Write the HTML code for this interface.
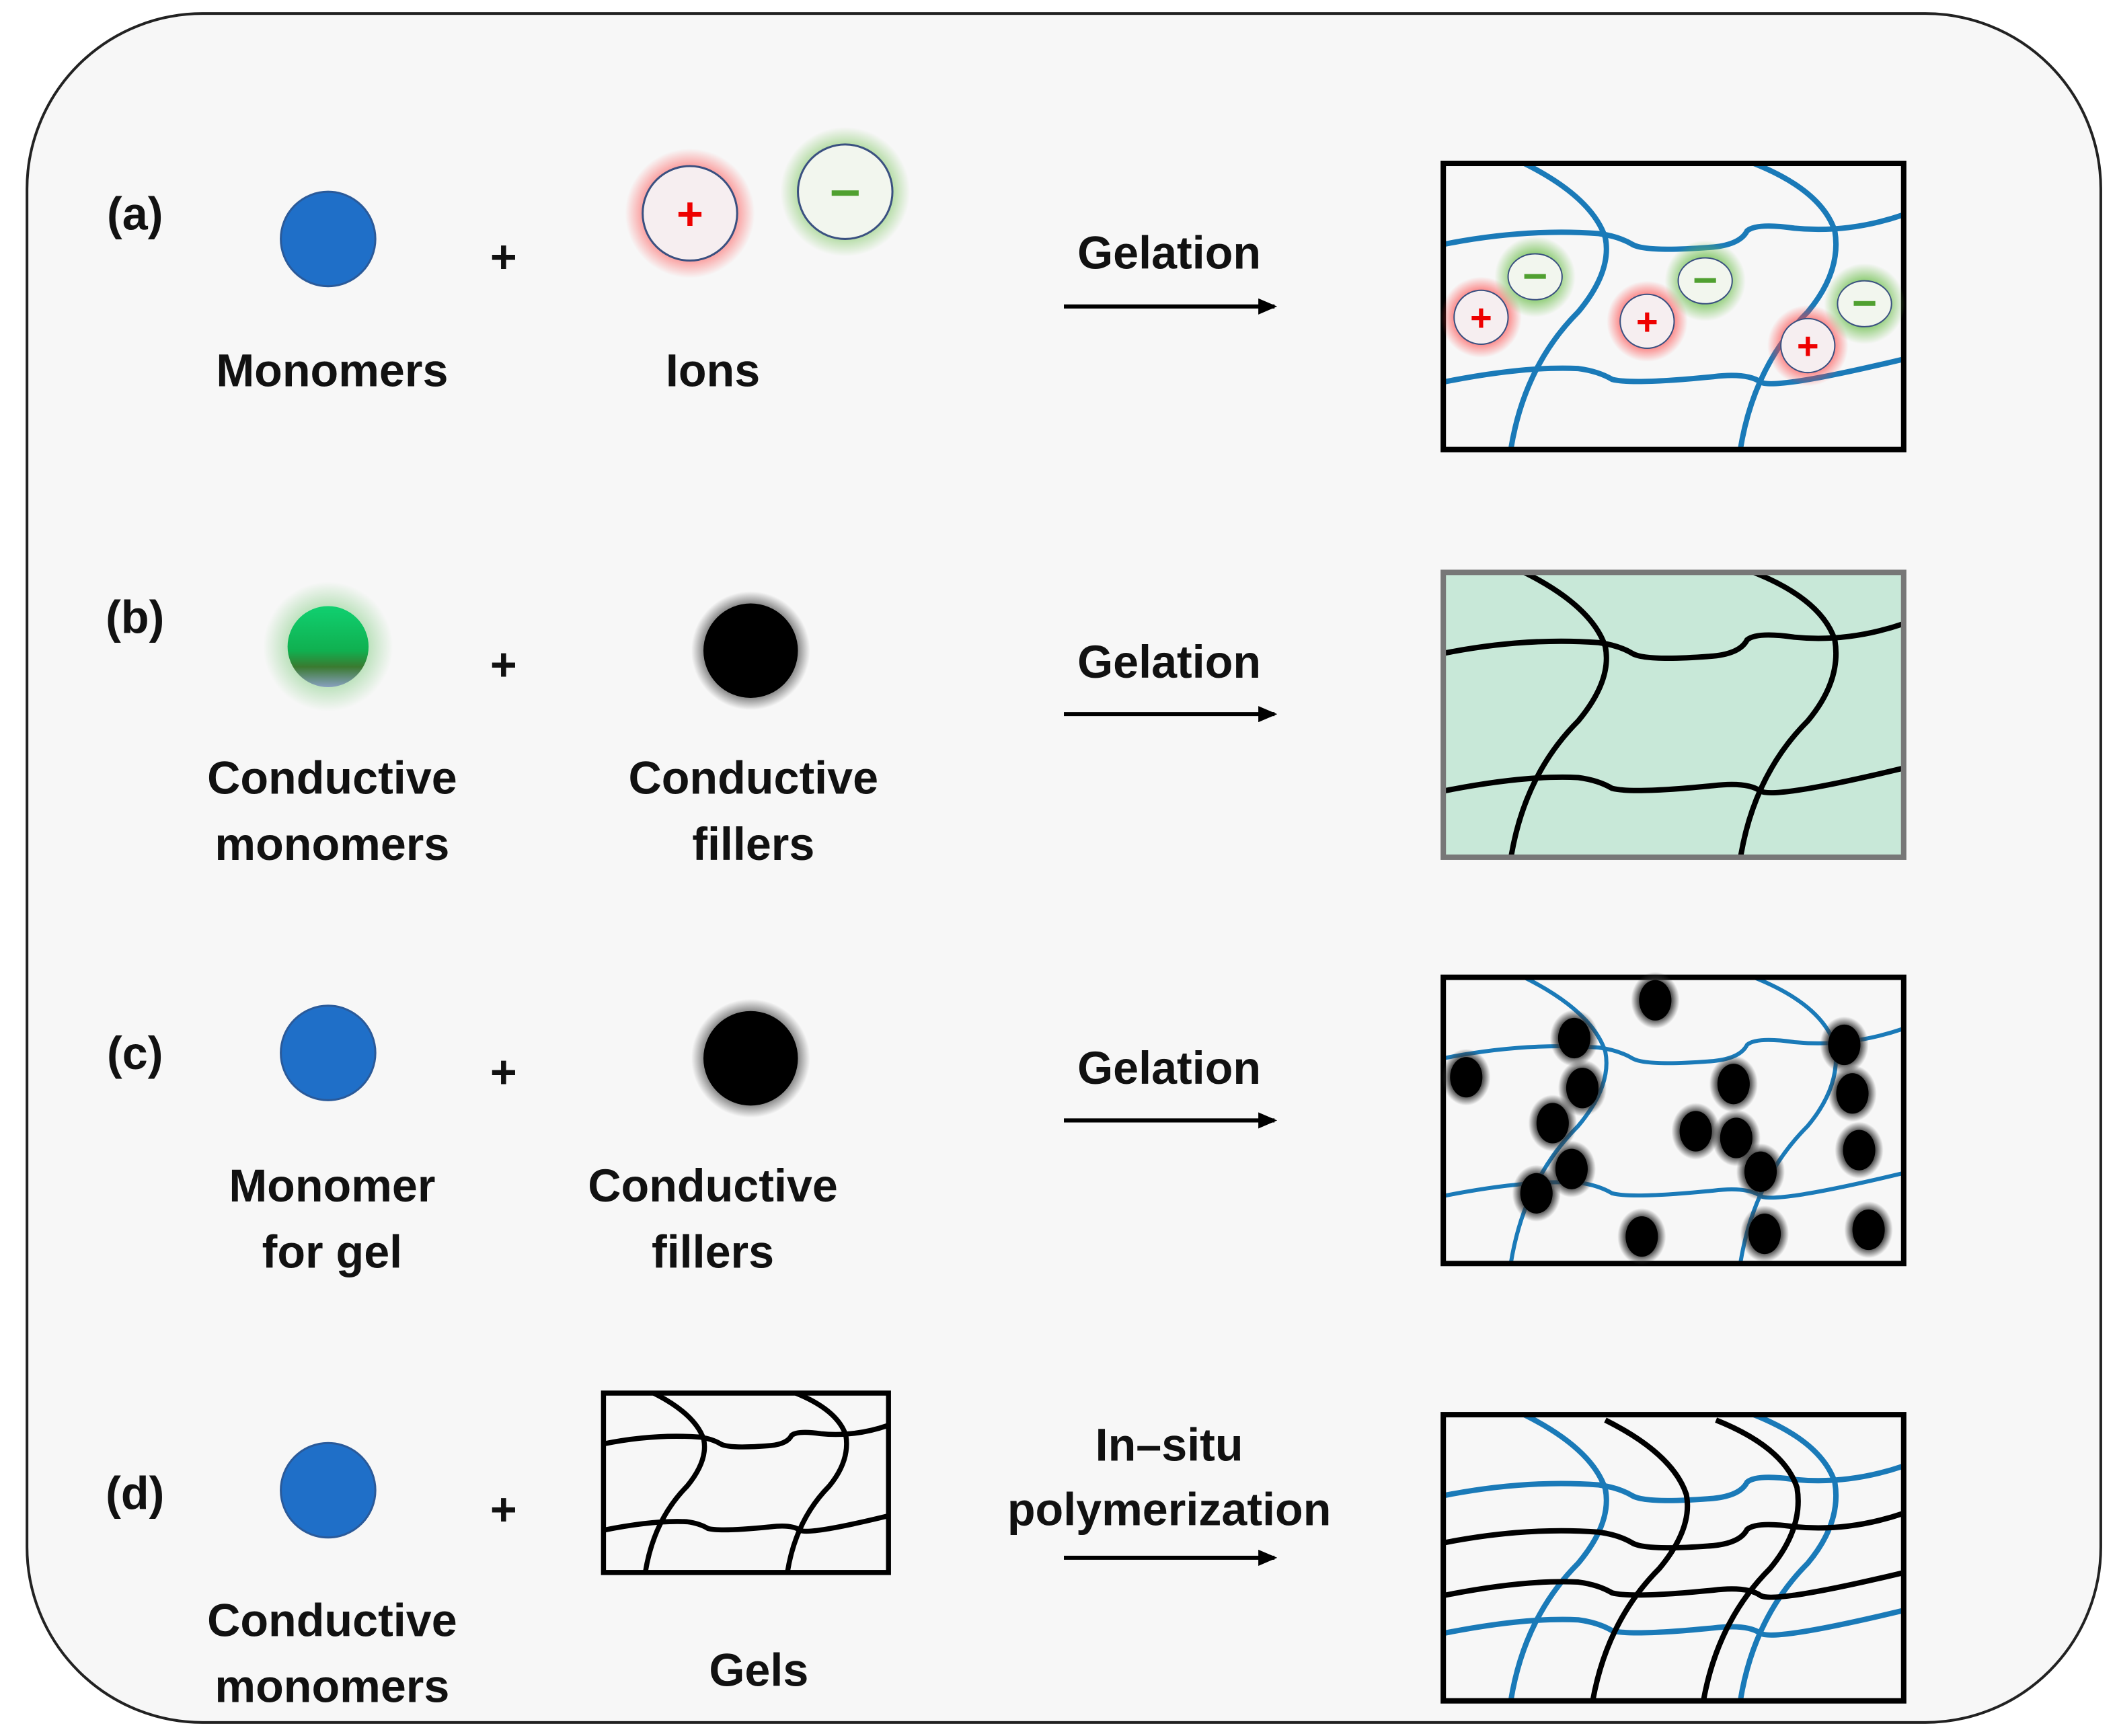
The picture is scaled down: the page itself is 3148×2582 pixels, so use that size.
<!DOCTYPE html>
<html><head><meta charset="utf-8"><style>
html,body{margin:0;padding:0;background:#fff;}
svg{display:block;}
text{font-family:"Liberation Sans",sans-serif;font-weight:bold;fill:#111;}
</style></head><body>
<svg width="3148" height="2582" viewBox="0 0 1568 1286" xmlns="http://www.w3.org/2000/svg">
<defs>
<radialGradient id="redglow"><stop offset="0.6" stop-color="#ff4040" stop-opacity="0.7"/><stop offset="1" stop-color="#ff4040" stop-opacity="0"/></radialGradient>
<radialGradient id="greenglow"><stop offset="0.6" stop-color="#70c050" stop-opacity="0.7"/><stop offset="1" stop-color="#70c050" stop-opacity="0"/></radialGradient>
<radialGradient id="darkglow"><stop offset="0.7" stop-color="#333" stop-opacity="0.8"/><stop offset="1" stop-color="#333" stop-opacity="0"/></radialGradient>
<radialGradient id="gglow"><stop offset="0.5" stop-color="#60c060" stop-opacity="0.5"/><stop offset="1" stop-color="#60c060" stop-opacity="0"/></radialGradient>
<linearGradient id="gball" x1="0" y1="0" x2="0" y2="1"><stop offset="0" stop-color="#10d070"/><stop offset="0.55" stop-color="#10b050"/><stop offset="0.75" stop-color="#3a7a30"/><stop offset="1" stop-color="#88a0c0"/></linearGradient>
<path id="h1" d="M0,60 Q60,48 115,52 Q130,54 140,60 Q150,66 200,62 Q220,60 225,50 Q232,44 260,48 Q300,52 341,38"/>
<path id="h2" d="M0,162 Q60,150 100,152 Q115,154 125,160 Q140,164 200,158 Q225,155 235,162 Q245,168 341,145"/>
<path id="v1" d="M60,0 Q110,25 120,55 Q125,80 100,110 Q60,150 50,212"/>
<path id="v2" d="M230,0 Q280,20 290,50 Q295,80 270,110 Q230,150 220,212"/>
<g id="net"><use href="#h1"/><use href="#h2"/><use href="#v1"/><use href="#v2"/></g>
<marker id="ah" markerWidth="14" markerHeight="12" refX="12" refY="6" orient="auto" markerUnits="userSpaceOnUse"><path d="M0,0 L14,6 L0,12 z" fill="#000"/></marker>
<clipPath id="cb"><rect x="0" y="0" width="341" height="212"/></clipPath>
</defs>
<rect x="0" y="0" width="1568" height="1286" fill="#fff"/>
<rect x="20" y="10" width="1536" height="1266" rx="130" fill="#f7f7f7" stroke="#222" stroke-width="2"/>

<g font-size="34" text-anchor="middle">
<!-- Row a -->
<text x="100" y="170">(a)</text>
<circle cx="243" cy="177" r="35" fill="#1f6fc8" stroke="#2a5a9a" stroke-width="1.5"/>
<text x="373" y="202">+</text>
<circle cx="511" cy="158" r="48" fill="url(#redglow)"/>
<circle cx="511" cy="158" r="35" fill="#f6eef0" stroke="#3a5080" stroke-width="1.5"/>
<text x="511" y="170" style="fill:#e00">+</text>
<circle cx="626" cy="142" r="48" fill="url(#greenglow)"/>
<circle cx="626" cy="142" r="35" fill="#f2f6ee" stroke="#3a5080" stroke-width="1.5"/>
<rect x="616" y="141" width="20" height="4" fill="#50a030"/>
<text x="246" y="286">Monomers</text>
<text x="528" y="286">Ions</text>
<text x="866" y="199">Gelation</text>
<line x1="788" y1="227" x2="944" y2="227" stroke="#000" stroke-width="3" marker-end="url(#ah)"/>
<g transform="translate(1069,121)">
<g clip-path="url(#cb)" fill="none" stroke="#1a7ab8" stroke-width="4"><use href="#net"/></g>
<rect x="0" y="0" width="341" height="212" fill="none" stroke="#000" stroke-width="4"/>
</g>
<g font-size="28">
<circle cx="1097" cy="235" r="30" fill="url(#redglow)"/><circle cx="1097" cy="235" r="20" fill="#f6eef0" stroke="#3a5080"/><text x="1097" y="245" style="fill:#e00">+</text>
<circle cx="1220" cy="238" r="30" fill="url(#redglow)"/><circle cx="1220" cy="238" r="20" fill="#f6eef0" stroke="#3a5080"/><text x="1220" y="248" style="fill:#e00">+</text>
<circle cx="1339" cy="256" r="30" fill="url(#redglow)"/><circle cx="1339" cy="256" r="20" fill="#f6eef0" stroke="#3a5080"/><text x="1339" y="266" style="fill:#e00">+</text>
</g>
<circle cx="1137" cy="205" r="30" fill="url(#greenglow)"/><ellipse cx="1137" cy="205" rx="20" ry="17" fill="#f2f6ee" stroke="#3a5080"/><rect x="1129" y="203" width="16" height="3.5" fill="#50a030"/>
<circle cx="1263" cy="208" r="30" fill="url(#greenglow)"/><ellipse cx="1263" cy="208" rx="20" ry="17" fill="#f2f6ee" stroke="#3a5080"/><rect x="1255" y="206" width="16" height="3.5" fill="#50a030"/>
<circle cx="1381" cy="225" r="30" fill="url(#greenglow)"/><ellipse cx="1381" cy="225" rx="20" ry="17" fill="#f2f6ee" stroke="#3a5080"/><rect x="1373" y="223" width="16" height="3.5" fill="#50a030"/>

<!-- Row b -->
<text x="100" y="469">(b)</text>
<circle cx="243" cy="479" r="48" fill="url(#gglow)"/>
<circle cx="243" cy="479" r="30" fill="url(#gball)"/>
<text x="373" y="504">+</text>
<circle cx="556" cy="482" r="44" fill="url(#darkglow)"/>
<circle cx="556" cy="482" r="35" fill="#000"/>
<text x="246" y="588">Conductive</text>
<text x="246" y="637">monomers</text>
<text x="558" y="588">Conductive</text>
<text x="558" y="637">fillers</text>
<text x="866" y="502">Gelation</text>
<line x1="788" y1="529" x2="944" y2="529" stroke="#000" stroke-width="3" marker-end="url(#ah)"/>
<g transform="translate(1069,424)">
<rect x="0" y="0" width="341" height="211" fill="#c8e8d8"/>
<g clip-path="url(#cb)" fill="none" stroke="#000" stroke-width="4"><use href="#net"/></g>
<rect x="0" y="0" width="341" height="211" fill="none" stroke="#777" stroke-width="4"/>
</g>

<!-- Row c -->
<text x="100" y="792">(c)</text>
<circle cx="243" cy="780" r="35" fill="#1f6fc8" stroke="#2a5a9a" stroke-width="1.5"/>
<text x="373" y="806">+</text>
<circle cx="556" cy="784" r="44" fill="url(#darkglow)"/>
<circle cx="556" cy="784" r="35" fill="#000"/>
<text x="246" y="890">Monomer</text>
<text x="246" y="939">for gel</text>
<text x="528" y="890">Conductive</text>
<text x="528" y="939">fillers</text>
<text x="866" y="803">Gelation</text>
<line x1="788" y1="830" x2="944" y2="830" stroke="#000" stroke-width="3" marker-end="url(#ah)"/>
<g transform="translate(1069,724)">
<g clip-path="url(#cb)" fill="none" stroke="#1a7ab8" stroke-width="3"><use href="#net"/></g>
<rect x="0" y="0" width="341" height="212" fill="none" stroke="#000" stroke-width="4"/>
</g>
<g>
<g fill="url(#darkglow)">
<ellipse cx="1226" cy="741" rx="18" ry="21"/><ellipse cx="1166" cy="769" rx="18" ry="21"/><ellipse cx="1366" cy="774" rx="18" ry="21"/><ellipse cx="1086" cy="798" rx="18" ry="21"/><ellipse cx="1172" cy="806" rx="18" ry="21"/><ellipse cx="1284" cy="803" rx="18" ry="21"/><ellipse cx="1372" cy="810" rx="18" ry="21"/><ellipse cx="1150" cy="832" rx="18" ry="21"/><ellipse cx="1256" cy="838" rx="18" ry="21"/><ellipse cx="1286" cy="843" rx="18" ry="21"/><ellipse cx="1377" cy="852" rx="18" ry="21"/><ellipse cx="1164" cy="866" rx="18" ry="21"/><ellipse cx="1304" cy="868" rx="18" ry="21"/><ellipse cx="1138" cy="884" rx="18" ry="21"/><ellipse cx="1216" cy="916" rx="18" ry="21"/><ellipse cx="1307" cy="914" rx="18" ry="21"/><ellipse cx="1384" cy="911" rx="18" ry="21"/>
</g>
<g fill="#000">
<ellipse cx="1226" cy="741" rx="12" ry="15"/><ellipse cx="1166" cy="769" rx="12" ry="15"/><ellipse cx="1366" cy="774" rx="12" ry="15"/><ellipse cx="1086" cy="798" rx="12" ry="15"/><ellipse cx="1172" cy="806" rx="12" ry="15"/><ellipse cx="1284" cy="803" rx="12" ry="15"/><ellipse cx="1372" cy="810" rx="12" ry="15"/><ellipse cx="1150" cy="832" rx="12" ry="15"/><ellipse cx="1256" cy="838" rx="12" ry="15"/><ellipse cx="1286" cy="843" rx="12" ry="15"/><ellipse cx="1377" cy="852" rx="12" ry="15"/><ellipse cx="1164" cy="866" rx="12" ry="15"/><ellipse cx="1304" cy="868" rx="12" ry="15"/><ellipse cx="1138" cy="884" rx="12" ry="15"/><ellipse cx="1216" cy="916" rx="12" ry="15"/><ellipse cx="1307" cy="914" rx="12" ry="15"/><ellipse cx="1384" cy="911" rx="12" ry="15"/>
</g>
</g>

<!-- Row d -->
<text x="100" y="1118">(d)</text>
<circle cx="243" cy="1104" r="35" fill="#1f6fc8" stroke="#2a5a9a" stroke-width="1.5"/>
<text x="373" y="1130">+</text>
<g transform="translate(447,1032) scale(0.619,0.627)">
<g clip-path="url(#cb)" fill="none" stroke="#000" stroke-width="6"><use href="#net"/></g>
<rect x="0" y="0" width="341" height="212" fill="none" stroke="#000" stroke-width="6"/>
</g>
<text x="246" y="1212">Conductive</text>
<text x="246" y="1261">monomers</text>
<text x="562" y="1249">Gels</text>
<text x="866" y="1082">In–situ</text>
<text x="866" y="1130">polymerization</text>
<line x1="788" y1="1154" x2="944" y2="1154" stroke="#000" stroke-width="3" marker-end="url(#ah)"/>
<g transform="translate(1069,1048)">
<g clip-path="url(#cb)" fill="none" stroke-width="4">
<g stroke="#1a7ab8"><use href="#net"/></g>
<g stroke="#000">
<use href="#h1" transform="translate(0,35)"/>
<use href="#h2" transform="translate(0,-28)"/>
<use href="#v1" transform="translate(60,4)"/>
<use href="#v2" transform="translate(-28,4)"/>
</g>
</g>
<rect x="0" y="0" width="341" height="212" fill="none" stroke="#000" stroke-width="4"/>
</g>
</g>
</svg>
</body></html>
